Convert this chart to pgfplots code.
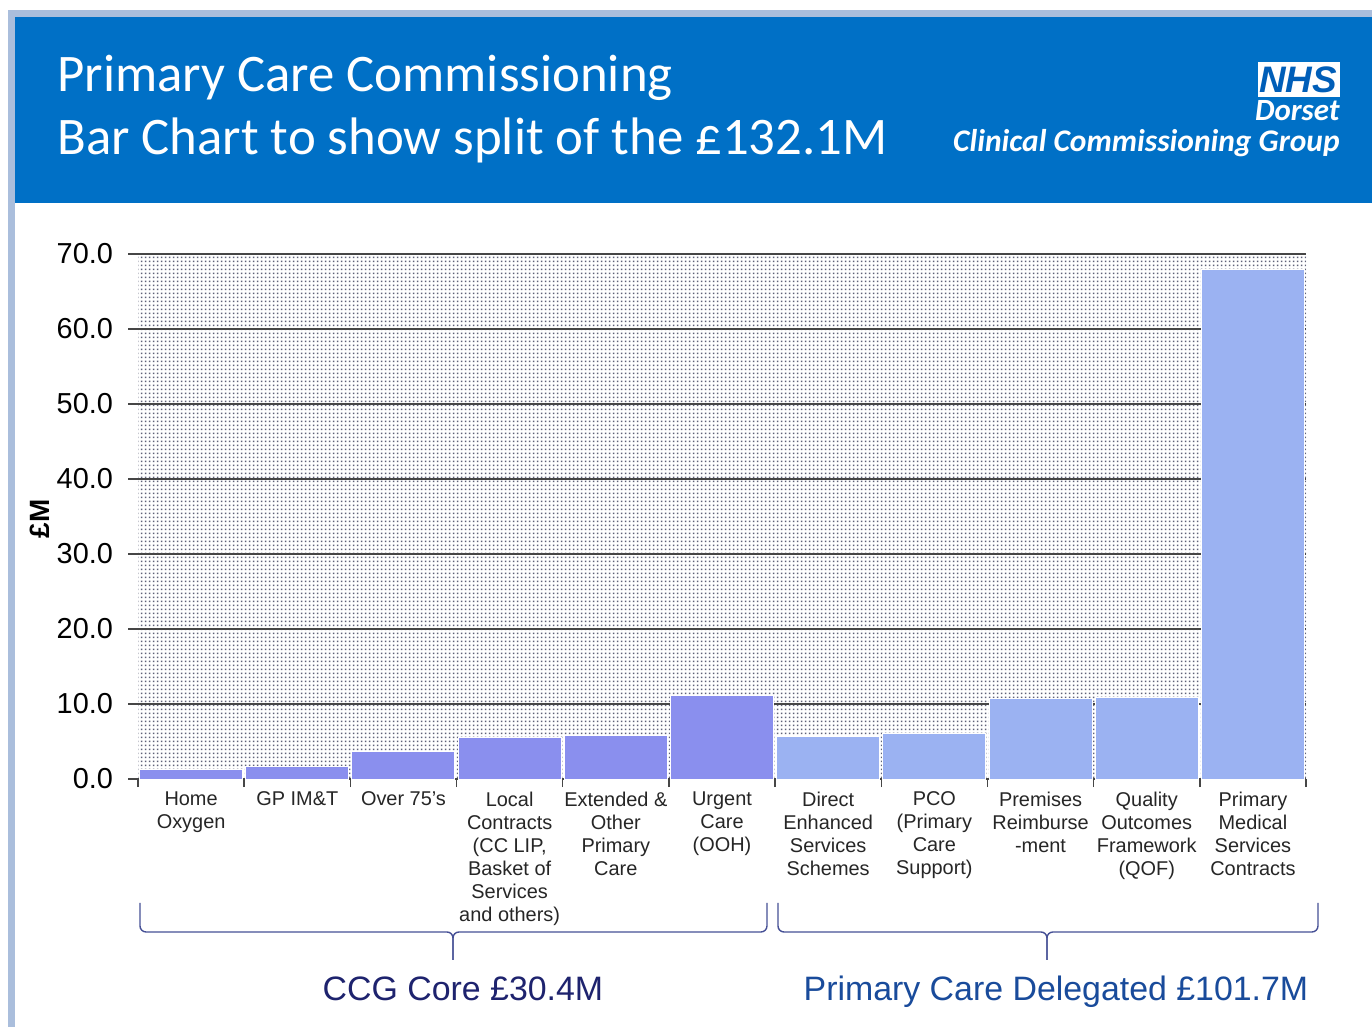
\documentclass[border=0pt]{standalone}
\usepackage{pgfplots}
\pgfplotsset{compat=1.18}
\usepackage{fontspec}
\setmainfont{Liberation Sans}
\newfontfamily\calibri{Carlito}
\usetikzlibrary{patterns.meta}

\definecolor{hdrblue}{RGB}{0,112,198}
\definecolor{edgeblue}{RGB}{170,190,220}
\definecolor{barA}{RGB}{138,143,238}
\definecolor{barB}{RGB}{155,178,242}
\definecolor{gridc}{RGB}{70,70,70}
\definecolor{navyA}{RGB}{30,35,110}
\definecolor{navyB}{RGB}{25,75,155}
\definecolor{bracec}{RGB}{70,80,150}
\definecolor{nhsblue}{RGB}{0,94,184}
\definecolor{dotc}{RGB}{95,98,120}

\tikzdeclarepattern{name=finedots, type=uncolored,
  bounding box={(0,0) and (2bp,2bp)}, tile size={(2bp,2bp)},
  code={\fill (0.55bp,0.55bp) rectangle (1.45bp,1.45bp);}}

\begin{document}
\begin{tikzpicture}
\begin{scope}[x=0.5bp,y=-0.5bp]
\fill[white] (0,0) rectangle (1372,1027);
\fill[edgeblue] (8,10) rectangle (1372,17);
\fill[edgeblue] (8,10) rectangle (15,1027);
\fill[hdrblue] (15,17) rectangle (1372,203);
\node[anchor=base west, text=white, font=\calibri\fontsize{26.5}{30}\selectfont, inner sep=0] at (57,92) {Primary Care Commissioning};
\node[anchor=base west, text=white, font=\calibri\fontsize{26.5}{30}\selectfont, inner sep=0] at (57,155) {Bar Chart to show split of the £132.1M};
\fill[white] (1258,62) rectangle (1340,97);
\node[text=nhsblue, font=\bfseries\itshape\fontsize{18.5}{18.5}\selectfont, inner sep=0] at (1298,80) {NHS};
\node[anchor=base east, text=white, font=\calibri\bfseries\itshape\fontsize{15.5}{15.5}\selectfont, inner sep=0] at (1340,121) {Dorset};
\node[anchor=base east, text=white, font=\calibri\bfseries\itshape\fontsize{15.8}{15.8}\selectfont, inner sep=0] at (1340,152) {Clinical Commissioning Group};
\node[rotate=90, font=\bfseries\fontsize{14}{14}\selectfont, inner sep=0] at (40,519) {£M};
\draw[bracec, line width=0.7bp, rounded corners=3bp] (140,903) -- (140,932) -- (453,932) -- (453,960);
\draw[bracec, line width=0.7bp, rounded corners=3bp] (453,960) -- (453,932) -- (767,932) -- (767,903);
\draw[bracec, line width=0.7bp, rounded corners=3bp] (778,903) -- (778,932) -- (1047,932) -- (1047,960);
\draw[bracec, line width=0.7bp, rounded corners=3bp] (1047,960) -- (1047,932) -- (1318,932) -- (1318,903);
\node[anchor=base, text=navyA, font=\fontsize{17}{17}\selectfont, inner sep=0] at (463,1001) {CCG Core £30.4M};
\node[anchor=base, text=navyB, font=\fontsize{17}{17}\selectfont, inner sep=0] at (1056,1001) {Primary Care Delegated £101.7M};
\end{scope}
\begin{axis}[
  at={(69bp,-389.5bp)}, anchor=south west,
  scale only axis, width=584bp, height=262.5bp,
  ymin=0, ymax=70, xmin=-0.5, xmax=10.5,
  ytick={0,10,...,70},
  /pgf/number format/assume math mode=true,
  yticklabel style={/pgf/number format/fixed, /pgf/number format/fixed zerofill, /pgf/number format/precision=1, font=\fontsize{14.5}{15}\selectfont, text=black, xshift=-4bp},
  ymajorgrids, grid style={gridc, line width=0.75bp},
  axis background/.style={pattern={finedots}, pattern color=dotc},
  xtick={0,...,10},
  xticklabels={{Home\\Oxygen},{GP IM\&T},{Over 75's},{Local\\Contracts\\(CC LIP,\\Basket of\\Services\\and others)},{Extended \&\\Other\\Primary\\Care},{Urgent\\Care\\(OOH)},{Direct\\Enhanced\\Services\\Schemes},{PCO\\(Primary\\Care\\Support)},{Premises\\Reimburse\\-ment},{Quality\\Outcomes\\Framework\\(QOF)},{Primary\\Medical\\Services\\Contracts}},
  xticklabel style={align=center, font=\fontsize{10}{11.5}\selectfont, text=black!85, yshift=2bp},
  minor xtick={-0.5,0.5,...,10.5},
  major x tick style={draw=none},
  minor x tick style={draw=gridc, line width=0.75bp},
  tick align=outside, major tick length=5bp, minor tick length=4bp,
  y tick style={draw=gridc, line width=0.75bp},
  axis x line*=bottom, axis y line*=left,
  x axis line style={gridc, line width=1.2bp, -},
  y axis line style={draw=none},
  ybar, bar width=0.97, bar shift=0pt,
]
\addplot[fill=barA, draw=white, line width=0.5bp] coordinates {(0,1.3)(1,1.7)(2,3.7)(3,5.5)(4,5.8)(5,11.1)};
\addplot[fill=barB, draw=white, line width=0.5bp] coordinates {(6,5.7)(7,6.1)(8,10.7)(9,10.9)(10,68.0)};
\end{axis}
\pgfresetboundingbox
\path[use as bounding box] (0,0) rectangle (686bp,-513.5bp);
\end{tikzpicture}
\end{document}
